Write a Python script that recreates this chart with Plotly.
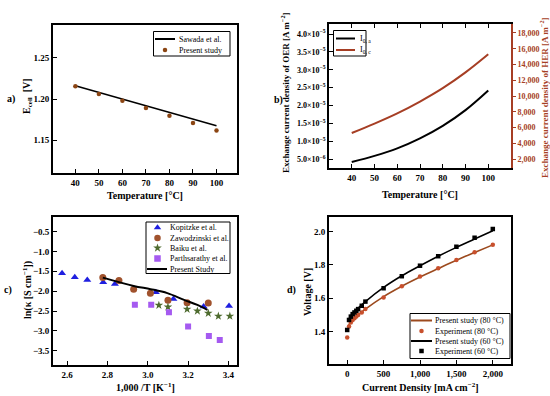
import plotly.graph_objects as go

# ---------------- data ----------------
# panel a
temp_a = [40, 50, 60, 70, 80, 90, 100]
ecell_present = [1.2154, 1.2061, 1.198, 1.189, 1.1796, 1.1707, 1.1617]
sawada_temp = [40, 100]
sawada_ecell = [1.2162, 1.1674]

# panel b
temp_b = [40, 50, 60, 70, 80, 90, 100]
i0_a = [4.2e-6, 5.9e-6, 8.0e-6, 1.08e-5, 1.43e-5, 1.87e-5, 2.42e-5]
i0_c = [5300, 6500, 7800, 9300, 11000, 13000, 15300]

# panel c
kop_x = [2.575, 2.638, 2.70, 2.779, 2.837, 3.04, 3.127, 3.277, 3.403]
kop_y = [-1.548, -1.649, -1.717, -1.775, -1.817, -2.026, -2.195, -2.389, -2.372]
zaw_x = [2.777, 2.857, 2.93, 3.013, 3.10, 3.195, 3.30]
zaw_y = [-1.659, -1.734, -1.95, -2.05, -2.23, -2.29, -2.30]
bai_x = [3.055, 3.10, 3.195, 3.246, 3.30, 3.35, 3.407]
bai_y = [-2.354, -2.40, -2.455, -2.50, -2.556, -2.63, -2.63]
par_x = [2.936, 3.017, 3.105, 3.20, 3.303, 3.357]
par_y = [-2.34, -2.34, -2.53, -2.89, -3.13, -3.23]
pres_x = [2.777, 2.93, 3.014, 3.097, 3.18, 3.246, 3.296]
pres_y = [-1.659, -1.868, -1.95, -2.05, -2.22, -2.346, -2.47]

# panel d
cur_exp = [0, 25, 50, 75, 100, 125, 150, 200, 250, 500, 750, 1000, 1250, 1500, 1750, 2000]
v60_exp = [1.41, 1.47, 1.49, 1.505, 1.515, 1.525, 1.535, 1.555, 1.58, 1.66, 1.732, 1.795, 1.852, 1.908, 1.962, 2.015]
v80_exp = [1.365, 1.43, 1.455, 1.47, 1.48, 1.49, 1.50, 1.515, 1.535, 1.605, 1.672, 1.73, 1.78, 1.83, 1.875, 1.92]
cur_mod = [20, 50, 100, 150, 250, 500, 750, 1000, 1250, 1500, 1750, 2000]
v60_mod = [1.47, 1.495, 1.52, 1.54, 1.58, 1.665, 1.735, 1.795, 1.852, 1.905, 1.955, 2.005]
v80_mod = [1.44, 1.46, 1.485, 1.50, 1.535, 1.61, 1.672, 1.727, 1.778, 1.828, 1.874, 1.92]

# ---------------- style ----------------
SERIF = "Liberation Serif"
RED = "#A63E24"
BROWN = "#9C4A1E"
W, H = 550, 396

def px_x(v):
    return v / W

def px_y(v):
    return 1 - v / H

tickfont = dict(family=SERIF, size=9, color="black", weight="bold")
titlefont = dict(family=SERIF, size=10, color="black", weight="bold")

def axis(domain, rng, **kw):
    d = dict(domain=domain, range=rng, showline=True, linecolor="black", linewidth=1.8,
             mirror=True, ticks="inside", ticklen=4, tickwidth=1.4, tickcolor="black",
             showgrid=False, zeroline=False, tickfont=tickfont)
    d.update(kw)
    return d

fig = go.Figure()

# panel a
fig.add_trace(go.Scatter(x=sawada_temp, y=sawada_ecell, mode="lines", line=dict(color="black", width=1.5),
                         xaxis="x", yaxis="y", showlegend=False))
fig.add_trace(go.Scatter(x=temp_a, y=ecell_present, mode="markers", marker=dict(color="#8B4513", size=4.5),
                         xaxis="x", yaxis="y", showlegend=False))

# panel b
fig.add_trace(go.Scatter(x=temp_b, y=i0_a, mode="lines", line=dict(color="black", width=2, shape="spline"),
                         xaxis="x2", yaxis="y2", showlegend=False))
fig.add_trace(go.Scatter(x=temp_b, y=i0_c, mode="lines", line=dict(color=RED, width=2, shape="spline"),
                         xaxis="x2", yaxis="y3", showlegend=False))

# panel c
fig.add_trace(go.Scatter(x=kop_x, y=kop_y, mode="markers", marker=dict(symbol="triangle-up", color="#1F1FE0", size=7),
                         xaxis="x3", yaxis="y4", showlegend=False))
fig.add_trace(go.Scatter(x=zaw_x, y=zaw_y, mode="markers", marker=dict(symbol="circle", color="#A0522D", size=7),
                         xaxis="x3", yaxis="y4", showlegend=False))
fig.add_trace(go.Scatter(x=bai_x, y=bai_y, mode="markers", marker=dict(symbol="star", color="#4E6B2E", size=6.5),
                         xaxis="x3", yaxis="y4", showlegend=False))
fig.add_trace(go.Scatter(x=par_x, y=par_y, mode="markers", marker=dict(symbol="square", color="#A55AF0", size=6),
                         xaxis="x3", yaxis="y4", showlegend=False))
fig.add_trace(go.Scatter(x=pres_x, y=pres_y, mode="lines", line=dict(color="black", width=2, shape="spline"),
                         xaxis="x3", yaxis="y4", showlegend=False))

# panel d
fig.add_trace(go.Scatter(x=cur_mod, y=v80_mod, mode="lines", line=dict(color=BROWN, width=1.6, shape="spline"),
                         xaxis="x4", yaxis="y5", showlegend=False))
fig.add_trace(go.Scatter(x=cur_exp, y=v80_exp, mode="markers", marker=dict(color="#C8502D", size=4.5),
                         xaxis="x4", yaxis="y5", showlegend=False))
fig.add_trace(go.Scatter(x=cur_mod, y=v60_mod, mode="lines", line=dict(color="black", width=1.6, shape="spline"),
                         xaxis="x4", yaxis="y5", showlegend=False))
fig.add_trace(go.Scatter(x=cur_exp, y=v60_exp, mode="markers", marker=dict(symbol="square", color="black", size=4.5),
                         xaxis="x4", yaxis="y5", showlegend=False))

# ---------------- legends (pixel overlay) ----------------
leg_font = dict(family=SERIF, size=8, color="black")
legend_items = [
    ("line", "black", None, 155, 175, 39, "Sawada et al.", 177),
    ("marker", "#8B4513", "circle", 165, None, 50, "Present study", 177),
    ("line", "black", None, 336, 355, 38.5, "I<sub>0, a</sub>", 358),
    ("line", RED, None, 336, 355, 50, "I<sub>0, c</sub>", 358),
    ("marker", "#1F1FE0", "triangle-up", 157.5, None, 227.5, "Kopitzke et al.", 168),
    ("marker", "#A0522D", "circle", 157.5, None, 238, "Zawodzinski et al.", 168),
    ("marker", "#4E6B2E", "star", 157.5, None, 248, "Baiku et al.", 168),
    ("marker", "#A55AF0", "square", 157.5, None, 258.5, "Parthsarathy et al.", 168),
    ("line", "black", None, 147, 167, 269, "Present Study", 168),
    ("line", BROWN, None, 411, 432, 320.5, "Present study (80 °C)", 432.5),
    ("marker", "#C8502D", "circle", 421.5, None, 331, "Experiment (80 °C)", 432.5),
    ("line", "black", None, 411, 432, 341, "Present study (60 °C)", 432.5),
    ("marker", "black", "square", 421.5, None, 351, "Experiment (60 °C)", 432.5),
]

shapes = []
annotations = []
for kind, color, sym, xs, xe, y, text, tx in legend_items:
    if kind == "line":
        shapes.append(dict(type="line", xref="x5", yref="y6", x0=xs, x1=xe, y0=y, y1=y,
                           line=dict(color=color, width=2)))
    else:
        size = 6.5
        if sym == "circle" and y < 60:
            size = 4.5
        if text.startswith("Experiment"):
            size = 4.5
        fig.add_trace(go.Scatter(x=[xs], y=[y], mode="markers", xaxis="x5", yaxis="y6",
                                 marker=dict(symbol=sym, color=color, size=size),
                                 showlegend=False, hoverinfo="skip"))
    annotations.append(dict(xref="x5", yref="y6", x=tx, y=y, text=text, showarrow=False,
                            xanchor="left", yanchor="middle", font=leg_font))

legend_boxes = [(153.5, 31.5, 230, 56), (333.5, 30.5, 366, 56), (146, 222, 230, 273.5), (410, 313.5, 510, 358.5)]
for x0, y0, x1, y1 in legend_boxes:
    shapes.append(dict(type="rect", xref="x5", yref="y6", x0=x0, x1=x1, y0=y0, y1=y1,
                       line=dict(color="black", width=1)))

panel_labels = [("a)", 11, 99), ("b)", 278, 100), ("c)", 8, 290), ("d)", 291, 290)]
for t, x, y in panel_labels:
    annotations.append(dict(xref="x5", yref="y6", x=x, y=y, text=t, showarrow=False,
                            xanchor="center", yanchor="middle",
                            font=dict(family=SERIF, size=10, color="black", weight="bold")))

sup = lambda e: "<sup>" + e + "</sup>"

# axis titles as annotations (pixel coords)
axis_titles = [
    ("Temperature [°C]", 145, 195, 0, titlefont),
    ("Temperature [°C]", 420, 194, 0, titlefont),
    ("1,000 /T [K" + sup("−1") + "]", 145, 387, 0, titlefont),
    ("Current Density [mA cm" + sup("−2") + "]", 420, 387, 0, titlefont),
    ("E<sub>cell</sub>  [V]", 27, 96, -90, titlefont),
    ("ln(κ [S cm" + sup("−1") + "])", 27, 290, -90, titlefont),
    ("Voltage [V]", 307, 292, -90, titlefont),
    ("Exchange current density of OER [A m" + sup("−2") + "]", 285, 93, -90,
     dict(family=SERIF, size=9, color="black", weight="bold")),
    ("Exchange current density of HER [A m" + sup("−2") + "]", 544, 98, -90,
     dict(family=SERIF, size=9, color=RED, weight="bold")),
]
for t, x, y, ang, f in axis_titles:
    annotations.append(dict(xref="x5", yref="y6", x=x, y=y, text=t, showarrow=False, textangle=ang,
                            xanchor="center", yanchor="middle", font=f))

# ---------------- layout ----------------
dom_ax = [px_x(53), px_x(236.5)]
dom_bx = [px_x(329), px_x(511)]
dom_ay = [px_y(173), px_y(25)]
dom_by = [px_y(168), px_y(24)]
dom_cy = [px_y(365), px_y(216.5)]
dom_dy = [px_y(364), px_y(216.5)]

b_ticks = [5e-6, 1e-5, 1.5e-5, 2e-5, 2.5e-5, 3e-5, 3.5e-5, 4e-5]
b_text = ["5.0×10" + sup("−6"), "1.0×10" + sup("−5"), "1.5×10" + sup("−5"), "2.0×10" + sup("−5"),
          "2.5×10" + sup("−5"), "3.0×10" + sup("−5"), "3.5×10" + sup("−5"), "4.0×10" + sup("−5")]

fig.update_layout(
    width=W, height=H, margin=dict(l=0, r=0, t=0, b=0),
    paper_bgcolor="white", plot_bgcolor="rgba(0,0,0,0)", showlegend=False,
    xaxis=axis(dom_ax, [30.5, 108.5], anchor="y", tickvals=[40, 50, 60, 70, 80, 90, 100]),
    yaxis=axis(dom_ay, [1.11, 1.29], anchor="x", tickvals=[1.15, 1.20, 1.25], tickformat=".2f"),
    xaxis2=axis(dom_bx, [30, 110], anchor="y2", tickvals=[40, 50, 60, 70, 80, 90, 100], mirror="ticks"),
    yaxis2=axis(dom_by, [2.5e-6, 4.28e-5], anchor="x2", mirror=False, tickvals=b_ticks, ticktext=b_text,
                tickfont=dict(family=SERIF, size=8, color="black", weight="bold")),
    yaxis3=dict(overlaying="y2", side="right", anchor="x2", range=[860, 19140], showline=True,
                linecolor=RED, linewidth=1.8, ticks="outside", ticklen=3, tickwidth=1.4, tickcolor=RED,
                showgrid=False, zeroline=False,
                tickvals=[2000, 4000, 6000, 8000, 10000, 12000, 14000, 16000, 18000], tickformat=",",
                tickfont=dict(family=SERIF, size=8, color=RED, weight="bold")),
    xaxis3=axis(dom_ax, [2.53, 3.44], anchor="y4", tickvals=[2.6, 2.8, 3.0, 3.2, 3.4], tickformat=".1f"),
    yaxis4=axis(dom_cy, [-3.86, -0.12], anchor="x3",
                tickvals=[-3.5, -3.0, -2.5, -2.0, -1.5, -1.0, -0.5], tickformat=".1f"),
    xaxis4=axis(dom_bx, [-250, 2250], anchor="y5", tickvals=[0, 500, 1000, 1500, 2000], tickformat=","),
    yaxis5=axis(dom_dy, [1.206, 2.09], anchor="x4", tickvals=[1.4, 1.6, 1.8, 2.0], tickformat=".1f"),
    xaxis5=dict(domain=[0, 1], range=[0, W], visible=False, fixedrange=True, anchor="y6"),
    yaxis6=dict(domain=[0, 1], range=[H, 0], visible=False, fixedrange=True, anchor="x5"),
    shapes=shapes,
    annotations=annotations,
)

fig.write_html("out.html", config={"displayModeBar": False},
               post_script="document.body.style.margin='0';document.body.style.overflow='hidden';")
